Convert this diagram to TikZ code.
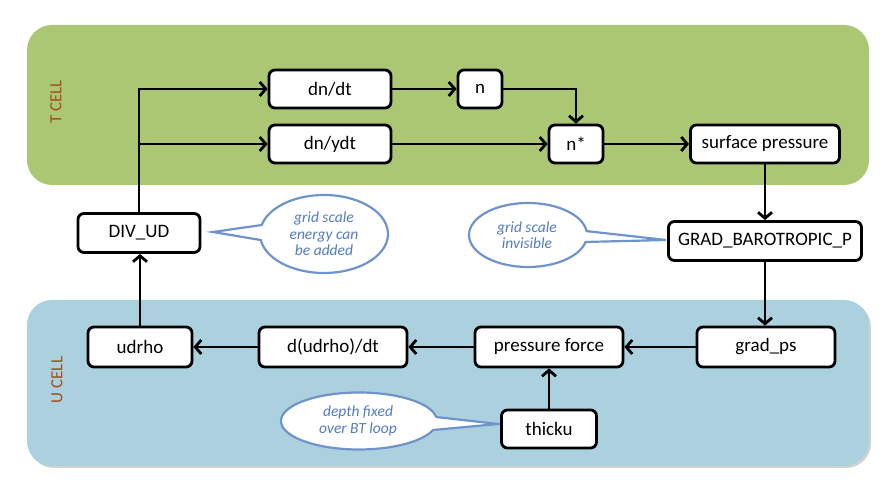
\documentclass[tikz,border=0pt]{standalone}
\usepackage{fontspec}
\setmainfont{Carlito}
\usetikzlibrary{arrows.meta}
\definecolor{tgreen}{RGB}{171,199,116}
\definecolor{ublue}{RGB}{171,208,222}
\definecolor{celllab}{RGB}{163,78,28}
\definecolor{callline}{RGB}{111,148,203}
\definecolor{calltext}{RGB}{84,124,190}
\tikzset{
  box/.style={draw=black, line width=2.8pt, rounded corners=6pt, fill=white,
    minimum height=38pt, inner sep=0pt, font=\fontsize{19}{21}\selectfont},
  arr/.style={line width=2.8pt, -{Straight Barb[length=6pt,width=14pt]}},
  callout/.style={draw=callline, line width=2.2pt, fill=white},
  calltxt/.style={text=calltext, align=center, font=\fontsize{15.5}{16.5}\selectfont\itshape},
  celltxt/.style={text=celllab, rotate=90, font=\fontsize{17}{18}\selectfont},
  band/.style={rounded corners=25pt}
}
\begin{document}
\begin{tikzpicture}[x=1pt,y=1pt]
\useasboundingbox (0,0) rectangle (893,500);
% bands
\fill[band, tgreen] (27,315) rectangle (869,475);
\fill[band, black!18] (29,32) rectangle (871,198);
\fill[band, ublue] (27,34) rectangle (869,200);
\node[celltxt] (tcell) at (56,398) {T CELL};
\node[celltxt] (ucell) at (57,120) {U CELL};
% callouts
\draw[callout, shift={(324,266)}] (188.9:64 and 39) arc[start angle=188.9, end angle=526.7, x radius=64, y radius=39] -- (-111,2) -- cycle;
\node[calltxt] (c1) at (324,266) {grid scale\\energy can\\be added};
\draw[callout, shift={(528,265)}] (7:59 and 32) arc[start angle=7, end angle=347.4, x radius=59, y radius=32] -- (138,-5) -- cycle;
\node[calltxt] (c2) at (527,265) {grid scale\\invisible};
\draw[callout, shift={(359,79)}] (8:78 and 28.5) arc[start angle=8, end angle=341.6, x radius=78, y radius=28.5] -- (139,-3) -- cycle;
\node[calltxt] (c3) at (358,79) {depth fixed\\over BT loop};
% nodes
\node[box, minimum width=122pt] (dndt) at (330,411) {dn/dt};
\node[box, minimum width=122pt] (dnydt) at (330,356) {dn/ydt};
\node[box, minimum width=44pt] (n) at (480,411) {n};
\node[box, minimum width=54pt] (nstar) at (576,356) {n*};
\node[box, minimum width=149pt] (sp) at (765,356) {surface pressure};
\node[box, minimum width=122pt, minimum height=39pt] (divud) at (139,267) {DIV\_UD};
\node[box, minimum width=193pt, minimum height=39pt] (grad) at (765,259) {GRAD\_BAROTROPIC\_P};
\node[box, minimum width=104pt, minimum height=40pt] (udrho) at (140,153) {udrho};
\node[box, minimum width=148pt, minimum height=40pt] (dudrho) at (333,153) {d(udrho)/dt};
\node[box, minimum width=148pt, minimum height=40pt] (pf) at (549,153) {pressure force};
\node[box, minimum width=138pt, minimum height=40pt] (gradps) at (766,153) {grad\_ps};
\node[box, minimum width=95pt] (thicku) at (549,71) {thicku};
% connectors
\draw[arr] (divud.north) |- (dndt.west);
\draw[arr] (divud.north) |- (dnydt.west);
\draw[arr] (dndt) -- (n);
\draw[arr] (n.east) -| (nstar.north);
\draw[arr] (dnydt) -- (nstar);
\draw[arr] (nstar) -- (sp);
\draw[arr] (sp) -- (grad);
\draw[arr] (grad.south) -- (grad.south |- gradps.north);
\draw[arr] (gradps) -- (pf);
\draw[arr] (pf) -- (dudrho);
\draw[arr] (dudrho) -- (udrho);
\draw[arr] (udrho.north) -- (udrho.north |- divud.south);
\draw[arr] (thicku) -- (pf);
\end{tikzpicture}
\end{document}
